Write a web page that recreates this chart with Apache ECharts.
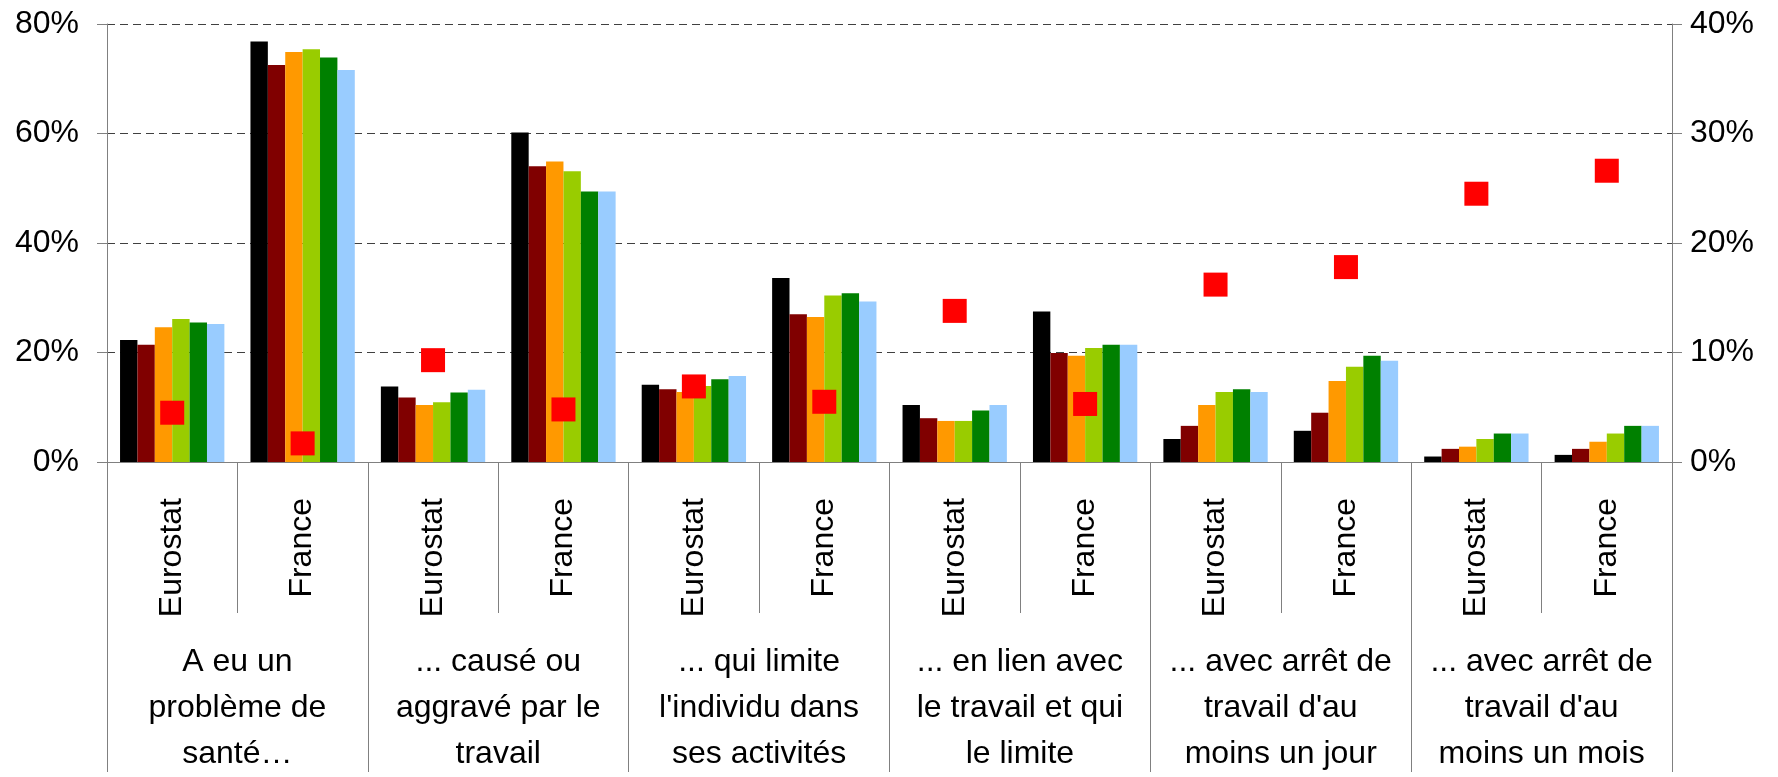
<!DOCTYPE html>
<html>
<head>
<meta charset="utf-8">
<script src="https://cdn.jsdelivr.net/npm/echarts@6/dist/echarts.min.js"></script>
<style>
html,body{margin:0;padding:0;background:#fff;}
#chart{width:1778px;height:777px;}
</style>
</head>
<body>
<div id="chart"></div>
<script>
// Categories
const categories = ['Eurostat','France','Eurostat','France','Eurostat','France','Eurostat','France','Eurostat','France','Eurostat','France'];
const groups = [
  'A eu un\nproblème de\nsanté…',
  '... causé ou\naggravé par le\ntravail',
  '... qui limite\nl\'individu dans\nses activités',
  '... en lien avec\nle travail et qui\nle limite',
  '... avec arrêt de\ntravail d\'au\nmoins un jour',
  '... avec arrêt de\ntravail d\'au\nmoins un mois'
];
// Bar series (left axis, %)
const serie1 = [22.3, 76.8, 13.8, 60.2, 14.1, 33.6, 10.4, 27.5, 4.2, 5.7, 1.0, 1.3];
const serie2 = [21.4, 72.5, 11.8, 54.0, 13.3, 27.0, 8.0, 19.9, 6.6, 9.0, 2.4, 2.4];
const serie3 = [24.6, 74.9, 10.4, 54.9, 12.8, 26.5, 7.5, 19.4, 10.4, 14.8, 2.8, 3.7];
const serie4 = [26.1, 75.4, 10.9, 53.1, 13.9, 30.4, 7.5, 20.8, 12.8, 17.4, 4.2, 5.2];
const serie5 = [25.5, 73.9, 12.7, 49.4, 15.1, 30.8, 9.4, 21.4, 13.3, 19.4, 5.2, 6.6];
const serie6 = [25.2, 71.6, 13.2, 49.4, 15.7, 29.3, 10.4, 21.4, 12.8, 18.5, 5.2, 6.6];
// Red squares (right axis, %)
const points = [4.5, 1.7, 9.3, 4.8, 6.9, 5.5, 13.8, 5.3, 16.2, 17.8, 24.5, 26.6];
// Axis ticks
const leftTicks = {min: 0, max: 80, interval: 20};
const rightTicks = {min: 0, max: 40, interval: 10};

const barNames = ['Série 1','Série 2','Série 3','Série 4','Série 5','Série 6'];
const barData = [serie1, serie2, serie3, serie4, serie5, serie6];
const barColors = ['#000000','#800000','#FF9900','#99CC00','#008000','#99CCFF'];

const axisGray = '#808080';
const sans = "'Liberation Sans', Arial, sans-serif";

const chart = echarts.init(document.getElementById('chart'), null, {renderer: 'canvas'});

const series = barData.map((d, i) => ({
  name: barNames[i],
  type: 'bar',
  xAxisIndex: 0,
  yAxisIndex: 0,
  data: d,
  itemStyle: {color: barColors[i], opacity: 1},
  barGap: '0%',
  barCategoryGap: '20%',
  silent: true
}));
series.push({
  name: 'Points',
  type: 'scatter',
  xAxisIndex: 0,
  yAxisIndex: 1,
  data: points,
  symbol: 'rect',
  symbolSize: 24,
  itemStyle: {color: '#FF0000', opacity: 1},
  z: 10,
  silent: true
});

chart.setOption({
  animation: false,
  backgroundColor: '#ffffff',
  grid: {left: 107, right: 106, top: 24, bottom: 310, containLabel: false},
  xAxis: [
    {
      type: 'category',
      data: categories,
      position: 'bottom',
      axisLine: {show: true, lineStyle: {color: axisGray, width: 1}},
      axisTick: {show: true, interval: 0, length: 151, alignWithLabel: false, lineStyle: {color: axisGray}},
      axisLabel: {
        show: true, interval: 0, rotate: 90, margin: 36,
        fontSize: 32, fontFamily: sans, color: '#000', hideOverlap: false
      },
      splitLine: {show: false}
    },
    {
      type: 'category',
      data: groups,
      position: 'bottom',
      gridIndex: 0,
      axisLine: {show: false},
      axisTick: {show: true, interval: 0, length: 310, alignWithLabel: false, lineStyle: {color: axisGray}},
      axisLabel: {
        show: true, interval: 0, margin: 177, lineHeight: 46,
        fontSize: 32, fontFamily: sans, color: '#000', align: 'center', hideOverlap: false
      },
      splitLine: {show: false}
    }
  ],
  yAxis: [
    {
      type: 'value',
      position: 'left',
      min: leftTicks.min, max: leftTicks.max, interval: leftTicks.interval,
      axisLine: {show: true, lineStyle: {color: axisGray}},
      axisTick: {show: true, length: 10, lineStyle: {color: axisGray}},
      axisLabel: {formatter: '{value}%', fontSize: 32, fontFamily: sans, color: '#000', margin: 28},
      splitLine: {show: true, lineStyle: {color: '#404040', type: [8, 5], width: 1}}
    },
    {
      type: 'value',
      position: 'right',
      min: rightTicks.min, max: rightTicks.max, interval: rightTicks.interval,
      axisLine: {show: true, lineStyle: {color: axisGray}},
      axisTick: {show: true, length: 10, lineStyle: {color: axisGray}},
      axisLabel: {formatter: '{value}%', fontSize: 32, fontFamily: sans, color: '#000', margin: 18},
      splitLine: {show: false}
    }
  ],
  series: series
});
</script>
</body>
</html>
